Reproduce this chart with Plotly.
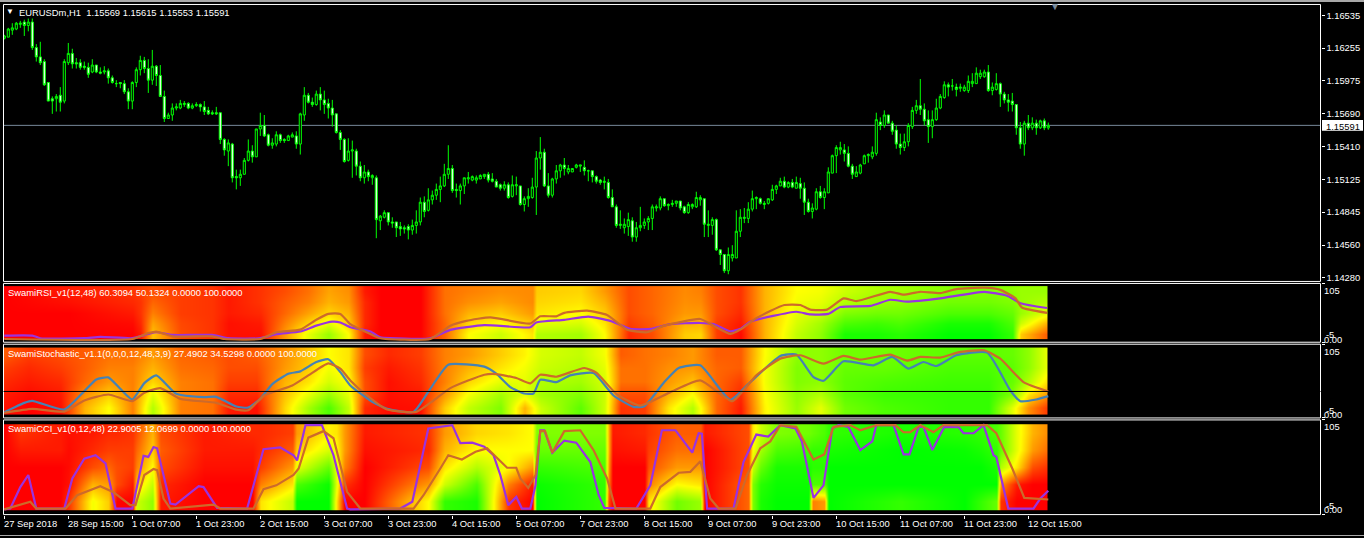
import plotly.graph_objects as go

W, H = 1364, 538
FONT = "Liberation Sans, sans-serif"
TXT = 9.4

title_text = "EURUSDm,H1  1.15569 1.15615 1.15553 1.15591"
rsi_text = "SwamiRSI_v1(12,48) 60.3094 50.1324 0.0000 100.0000"
sto_text = "SwamiStochastic_v1.1(0,0,0,12,48,3,9) 27.4902 34.5298 0.0000 100.0000"
cci_text = "SwamiCCI_v1(0,12,48) 22.9005 12.0699 0.0000 100.0000"

# Prices in pips above 1.0000 (1634 = 1.1634)
opens = [1634,1635,1641,1642,1646,1648,1645,1648,1626,1618,
1614,1596,1582,1582,1585,1580,1613,1621,1613,1613,
1610,1609,1605,1611,1605,1605,1606,1600,1595,1596,
1595,1588,1580,1596,1607,1615,1608,1598,1610,1602,
1584,1565,1568,1574,1574,1577,1578,1574,1576,1577,
1575,1572,1570,1570,1570,1547,1537,1543,1515,1514,
1517,1529,1537,1532,1556,1559,1551,1542,1543,1551,
1547,1546,1549,1550,1543,1568,1585,1579,1577,1586,
1581,1578,1574,1569,1553,1547,1529,1537,1537,1524,
1514,1519,1514,1514,1477,1480,1484,1476,1476,1472,
1471,1472,1469,1473,1476,1493,1486,1495,1499,1504,
1507,1517,1522,1504,1503,1507,1513,1512,1512,1513,
1515,1517,1513,1511,1508,1505,1508,1498,1507,1507,
1491,1496,1497,1506,1531,1536,1507,1499,1513,1520,
1525,1519,1519,1523,1524,1523,1520,1520,1515,1512,
1510,1510,1497,1489,1473,1471,1472,1477,1463,1471,
1473,1476,1479,1488,1488,1496,1490,1491,1492,1494,
1489,1484,1489,1489,
1495,1496,1473,1473,1478,1452,
1448,1434,1445,1445,1468,1479,1479,1487,1496,1496,
1491,1492,1495,1504,1507,1511,1506,1510,1505,1509,
1505,1493,1485,1487,1502,1497,1501,1518,1533,1538,
1538,1535,1524,1515,1518,1526,1533,1532,1535,1562,
1559,1568,1561,1555,1543,1540,1545,1558,1572,1576,
1573,1564,1558,1564,1574,1583,1594,1593,1592,1591,
1589,1589,1595,1595,1601,1601,1605,1589,1590,1595,
1586,1581,1580,1577,1557,1543,1561,1557,1561,1557,1563,1556.9]

highs = [1637,1643,1647,1648,1649,1650,1651,1651,1629,1631,
1616,1596,1584,1586,1592,1616,1630,1625,1617,1616,
1614,1613,1616,1611,1609,1610,1608,1602,1598,1596,
1598,1591,1597,1609,1619,1618,1616,1624,1611,1611,
1589,1570,1578,1578,1581,1580,1579,1578,1579,1578,
1580,1575,1572,1575,1570,1548,1547,1544,1521,1521,
1531,1547,1542,1556,1570,1568,1552,1548,1554,1552,
1548,1551,1553,1554,1570,1592,1587,1583,1589,1592,
1589,1582,1581,1569,1555,1548,1548,1546,1539,1528,
1525,1521,1517,1516,1482,1486,1484,1480,1476,1476,
1473,1474,1478,1486,1497,1498,1505,1503,1509,1515,
1526,1542,1525,1509,1509,1514,1519,1516,1516,1517,
1517,1519,1518,1513,1509,1511,1510,1516,1515,1507,
1498,1505,1514,1537,1549,1539,1518,1514,1525,1526,
1531,1525,1522,1526,1525,1529,1521,1520,1516,1513,
1515,1513,1504,1491,1486,1479,1484,1480,1476,1489,
1479,1481,1491,1491,1498,1496,1492,1495,1494,1494,
1490,1493,1492,1502,
1499,1496,1486,1480,1479,1452,
1448,1454,1456,1486,1487,1488,1493,1503,1498,1497,
1494,1496,1508,1508,1514,1515,1511,1513,1515,1514,
1510,1496,1492,1505,1507,1505,1523,1534,1542,1545,
1543,1541,1526,1524,1526,1534,1535,1541,1570,1566,
1572,1568,1563,1559,1552,1552,1561,1575,1581,1599,
1578,1572,1572,1582,1586,1597,1596,1599,1595,1595,
1594,1602,1604,1609,1607,1607,1611,1596,1604,1596,
1588,1586,1587,1577,1562,1563,1568,1566,1564,1564,1565,1561.5]

lows = [1633,1635,1637,1641,1643,1636,1640,1624,1614,1611,
1593,1580,1569,1571,1571,1578,1611,1608,1608,1607,
1607,1600,1604,1604,1603,1603,1595,1595,1592,1591,
1586,1573,1573,1592,1602,1604,1587,1594,1593,1584,
1562,1565,1563,1572,1573,1575,1573,1573,1575,1571,
1568,1568,1568,1568,1543,1533,1524,1510,1504,1507,
1517,1528,1527,1532,1550,1549,1541,1539,1541,1544,
1544,1546,1549,1539,1534,1563,1578,1575,1576,1572,
1569,1565,1558,1552,1538,1527,1528,1514,1516,1511,
1509,1511,1508,1462,1469,1479,1473,1471,1463,1464,
1466,1461,1465,1466,1473,1480,1485,1491,1495,1493,
1506,1513,1501,1497,1491,1500,1509,1511,1509,1513,
1513,1510,1510,1506,1503,1503,1496,1497,1499,1490,
1485,1489,1496,1482,1521,1506,1497,1497,1509,1514,
1516,1517,1519,1522,1519,1516,1511,1510,1509,1508,
1504,1496,1489,1471,1470,1466,1464,1459,1459,1468,
1470,1469,1469,1485,1486,1489,1486,1489,1489,1486,
1483,1483,1487,1488,
1490,1463,1463,1465,1451,1439,
1432,1431,1442,1445,1463,1475,1475,1485,1487,1491,
1487,1491,1494,1500,1507,1505,1505,1505,1505,1496,
1482,1484,1479,1486,1496,1487,1501,1518,1518,1534,
1528,1523,1513,1515,1517,1526,1527,1530,1533,1555,
1557,1561,1551,1539,1534,1537,1541,1556,1569,1568,
1559,1544,1548,1563,1573,1582,1584,1589,1584,1588,
1588,1587,1592,1595,1599,1600,1588,1585,1589,1575,
1578,1571,1571,1551,1539,1533,1555,1555,1551,1556,1555,1555.3]

closes = [1636,1642,1643,1647,1647,1645,1648,1626,1618,1613,
1594,1580,1580,1584,1579,1614,1621,1612,1612,1609,
1609,1603,1611,1605,1604,1606,1600,1596,1595,1595,
1588,1580,1596,1607,1615,1608,1598,1610,1602,1584,
1565,1568,1574,1575,1578,1578,1574,1576,1577,1575,
1571,1569,1569,1569,1547,1538,1544,1514,1514,1517,
1529,1537,1532,1556,1559,1550,1542,1544,1551,1546,
1546,1550,1551,1543,1569,1585,1579,1577,1586,1581,
1577,1574,1568,1553,1547,1528,1537,1538,1524,1514,
1519,1515,1516,1478,1481,1484,1476,1475,1471,1470,
1470,1469,1473,1476,1493,1485,1495,1499,1504,1507,
1517,1522,1503,1503,1507,1514,1514,1515,1514,1516,
1517,1512,1511,1506,1505,1508,1497,1508,1508,1491,
1496,1498,1506,1531,1536,1507,1499,1513,1520,1525,
1522,1522,1522,1525,1525,1520,1520,1515,1511,1510,
1511,1497,1489,1473,1474,1474,1478,1463,1471,1473,
1476,1479,1489,1489,1496,1490,1491,1492,1494,1488,
1484,1491,1491,1497,
1497,1474,1474,1478,1452,1448,
1434,1448,1448,1468,1480,1480,1487,1496,1497,1492,
1492,1496,1504,1507,1511,1506,1510,1506,1510,1505,
1493,1485,1488,1502,1497,1502,1519,1533,1540,1540,
1535,1524,1517,1519,1525,1533,1534,1536,1564,1559,
1568,1561,1554,1543,1540,1545,1559,1572,1576,1573,
1563,1558,1564,1574,1584,1594,1592,1593,1590,1592,
1592,1597,1597,1604,1604,1605,1589,1592,1595,1586,
1581,1579,1577,1557,1543,1561,1557,1561,1557,1563,1557,1559.1]

price_ticks = [1.16535, 1.16255, 1.15975, 1.15690, 1.15410, 1.15125, 1.14845, 1.14560, 1.14280]
last_price = 1.15591

time_tick_bars = [0, 16, 32, 48, 64, 80, 96, 112, 128, 144, 160, 176, 192, 208, 224, 240, 256]
time_labels = ["27 Sep 2018", "28 Sep 15:00", "1 Oct 07:00", "1 Oct 23:00", "2 Oct 15:00", "3 Oct 07:00",
               "3 Oct 23:00", "4 Oct 15:00", "5 Oct 07:00", "7 Oct 23:00", "8 Oct 15:00", "9 Oct 07:00",
               "9 Oct 23:00", "10 Oct 15:00", "11 Oct 07:00", "11 Oct 23:00", "12 Oct 15:00"]

heat_rows = [10, 30, 50, 70, 90]
RED_GREEN = [[0, "#ff0000"], [0.25, "#ff8000"], [0.5, "#ffff00"], [0.75, "#80ff00"], [1, "#00ff00"]]

rsi_heat_bars = [0,16,32,34,37,44,52,56,64,70,76,81,86,90,94,104,110,116,124,132,133,144,150,156,162,170,174,178,184,190,198,204,210,218,224,236,246,252,254,260.6]
rsi_heat = [[0,0,0,0,0],[0,0,0,3,5],[0,2,5,8,10],[5,8,10,10,12],[38,32,25,20,15],[15,14,12,12,12],[10,10,10,10,10],[3,3,5,5,5],
[3,5,8,10,10],[30,25,20,18,15],[55,42,32,25,22],[70,55,42,35,32],[50,40,35,30,28],[5,8,8,8,5],[0,0,0,0,0],[0,0,0,0,0],
[20,20,22,22,22],[50,42,35,28,25],[60,50,40,32,28],[45,38,30,27,27],[65,55,45,42,40],[68,58,50,45,42],[50,45,40,35,30],
[8,12,15,15,15],[15,18,20,20,20],[40,35,30,28,27],[42,35,30,27,25],[12,12,15,15,15],[2,5,8,10,10],[35,35,35,35,35],
[62,58,55,52,50],[72,68,60,55,52],[95,85,75,65,60],[95,88,78,70,66],[92,85,78,72,68],[100,95,85,78,74],[100,95,85,78,75],
[90,85,80,75,72],[40,60,70,70,70],[18,35,55,65,70]]

sto_heat_bars = [0,6,14,20,26,32,37,44,52,56,63,70,76,81,86,90,96,104,110,116,124,130,134,144,150,154,160,166,172,178,184,190,198,204,210,220,236,246,252,256,260.6]
sto_heat = [[3,5,8,12,18],[0,2,5,8,12],[3,5,8,12,15],[35,28,20,18,18],[50,40,30,25,22],[25,25,25,25,22],[65,55,42,35,30],
[25,25,25,22,20],[22,22,22,20,18],[5,8,12,15,15],[3,8,12,15,18],[42,38,35,30,28],[68,55,45,40,38],[85,70,58,52,50],
[62,55,50,45,45],[8,15,15,12,15],[2,3,3,5,8],[3,5,8,10,12],[40,30,25,25,25],[62,52,42,35,30],[75,68,55,45,40],[35,55,55,52,48],
[60,68,65,60,58],[82,75,68,65,62],[60,60,58,55,52],[10,15,22,22,18],[12,15,22,22,22],[45,35,30,28,25],[65,50,38,30,30],
[20,20,20,20,18],[5,8,12,18,18],[48,50,52,52,50],[70,72,75,75,72],[55,65,72,72,72],[78,82,82,80,78],[85,88,85,80,78],
[90,90,88,85,82],[90,90,88,85,82],[55,75,80,82,80],[28,45,65,72,72],[12,30,45,55,55]]

cci_heat_bars = [0,4,14,16,22,26,28,32,33,37,39,50,62,64,72,73,81,83,85,90,106,110,118,126,132,133,150,151,152,160,161,168,174,175,186,187,189,193,201,202,205,206,224,240,244,248,249,253,257,260.6]
cci_heat = [[0,0,0,0,0],[0,0,0,5,10],[0,0,0,5,5],[10,3,2,2,3],[52,35,15,8,5],[40,30,20,12,8],[0,15,15,12,8],[0,5,12,12,10],
[60,40,25,20,15],[72,62,50,40,35],[5,8,15,18,15],[0,0,3,5,5],[0,0,3,5,8],[45,25,12,8,8],[62,45,30,18,12],[100,85,55,40,30],
[100,98,80,58,48],[45,55,55,50,45],[0,10,25,30,30],[0,0,0,3,5],[50,30,15,8,10],[90,60,45,35,30],[95,85,65,50,42],[10,25,50,50,45],
[0,5,30,50,50],[100,98,90,80,75],[90,90,85,80,75],[15,25,30,35,35],[0,0,0,3,5],[0,0,0,5,8],[45,25,15,12,10],[78,50,30,22,18],
[70,45,30,22,18],[0,0,0,0,5],[20,20,15,15,15],[75,75,60,50,45],[95,92,80,68,60],[100,98,95,85,75],[100,98,95,88,78],[25,85,92,90,80],[30,85,92,90,85],
[100,100,100,95,90],[90,100,100,100,95],[100,100,100,98,92],[90,100,100,95,90],[80,100,95,90,85],[10,30,65,80,80],
[0,5,45,55,55],[0,0,15,30,35],[0,0,10,22,28]]

rsi_purple_bars = [0,7,9,20,24,32,36,38,42,52,56,64,68,74,78,82,84,86.5,91.5,94,96.5,106.5,111.5,120,131.5,133,140,146,151.5,156.5,161.5,166.5,174,177.3,181.5,184,186.5,198,201.5,206,209,216.5,221.5,225.7,234,245,250.7,254,260.7]
rsi_purple = [7.5,7.5,2.5,2.5,5,2.5,10.5,13.7,8.7,8.7,2.5,2.5,10,15,26,33.5,32,23,15,4,2.5,2.5,18,27,23,32,37,43,35,20,20,29,31,29,15.5,20,33.5,52,47,48,61,63,74.5,71,77,89.4,82,68,59]
rsi_choc_bars = [0,32,36,38,42,52,55,64,68,74,78,81,84,86.5,91.5,94,106.5,111.5,115.5,121.5,131.5,134,138,140,145.7,150.7,155.7,160.7,165,174,177.3,181.5,184,188,195,199,201.5,205.7,209.8,213,221.5,224.8,229,234,238,245,249,252.8,254.4,260.7]
rsi_choc = [1,1,12,15,6,6,1,1,13.7,18.6,37,48,48,29,10.6,2.5,1,26,35,41.6,30,43.5,43.5,50,54,46,18.6,13.7,26,38.5,26,10.6,18.6,40,64.6,64.6,56,56,77,72,89.4,84,89.4,87,94.4,97,93,77,60,50]

sto_blue_bars = [0,5,7,15,20,23,26,29,32,35,38,43,50,53,58,61,64,67,71,74,78,81,84,86.5,91.5,95.7,102.3,106.5,111,120,123,126.5,130,132.3,134,138,141.5,147.3,152.3,157.3,160,165,168.6,174,181.5,186.5,194,198,202.3,204.8,209.8,217.3,222,226,229.8,233,238,245.7,251.5,254,258,261]
sto_blue = [3.5,17.5,20.5,7.5,35,52.5,55.5,38.5,22.5,47,58.5,31,26,26.5,12,10.5,23.5,45.5,61,64.5,78.5,82.5,63.5,43.5,21,8.5,4,38.5,74.5,71.5,61,41,31.5,31.5,52,48.5,58.5,62,28.5,11.5,12.5,48.5,69.5,73.5,22,48.5,87.5,89.5,56,50.5,79.5,73.5,86,68.5,78.5,72.5,88.5,92.5,36,20,22.5,27.5]
sto_choc_bars = [0,7,15,20,26,32,35,39,44,53,58,61,65,72,76,81,84,86.5,90.7,95.7,103,107.3,111.5,120,123,128,131.5,134,138,145,148,153,159,166.5,174,182,188,194,199,204.8,209.8,214,221.5,225.7,229,234,239,245,249,254.8,261]
sto_choc = [2.5,8.5,4.5,21,30,20,32.5,39.5,23.5,17.5,7.5,6.5,28.5,43.5,58.5,76.5,68.5,51,28.5,7.5,4,21,39.5,59.5,60.5,54.5,46.5,59.5,56.5,69.5,62.5,31,13.5,33.5,51,20,58.5,83.5,88.5,76,87.5,82,89.5,80.5,86,85,93.5,96,83.5,48.5,34.5]
sto_level = 34.5

cci_purple_bars = [0,1.5,4,6,8,15,17,20,22.8,25.3,27.8,32,34.8,36,37.3,38.2,41.5,42.8,48.6,49.8,53.2,60.7,64.8,69,72.3,73.2,75.3,79.4,82.3,85.7,86.5,99,102,104.4,106,112,114,117,120,122.3,124,126,128,129.4,131.5,132.8,134,135,137,140,143,146.5,148.6,150,158,161.5,164.4,167.8,170,172,173.6,174.4,175.7,182.3,184.8,188,191,194,197.8,199.4,202.3,204.8,207,208.6,211,214,217,218,222.3,224.8,226.3,228.6,229.8,232,235,238.6,239.8,242.3,244.8,247.3,248,251,257.3,259,261]
cci_purple = [1,2,27,41,2,2,37,60,64,54.5,2,2,63.4,62,73.5,72,7.8,6.6,28,27,2.7,2,71,73,64,58,99,99,64,2,1,2,10,60,95,99,78,78.6,74,64,41,6,15.5,2,2,29,93,93,67,81,78.6,56,17.5,2.7,2,29,93,93,80,67,89.5,89,2,2,56,88,85.6,99,95,80,14.4,29,95,99,97,70,80,99,99,65,65,97,97,70,97,96.5,89.5,89.5,99,64,62,2,2,13.6,22.6]
cci_choc_bars = [0,6.5,8,15.3,18.2,24,27.3,31.5,32.8,35,37.3,38.2,39.8,41.5,52.3,54,62.3,64.8,68,72.3,73.6,76,79.8,82.3,85.7,89,102.3,104.8,109,111,114.4,117.8,120.7,125.7,128,129,131,132.8,134,135.2,137,140,144,147.3,150.7,152.8,161.5,164,168.6,171.5,174,176.5,178.6,182.8,185.7,189,191.5,194,198,202.3,205,207.3,211.5,214,218,222.8,224.8,226.5,229,232.3,234.8,245.7,248,252,255,261]
cci_choc = [1,10,2,2,17.5,28,21,6,6,41,48,46.7,13.6,2,6.6,2,2,24.5,29,41,48.6,84.4,92,83.7,21.4,2,2,17.5,48.6,64,59,68,72,49.4,49.4,37,26,41,92,92,67,92,93,70,37,2,2,27,43.6,44.7,57,13.6,2,2,41,72,80,99,97,59,65,97,99,93,99,99,90.7,90.7,99,90.7,99,99,89.5,48.6,14.4,12.5]

PURPLE, CHOC, BLUE = "#9a32e0", "#cd6a2a", "#4682b4"


def px_x(x):
    return x / W


def px_y(y):
    return 1 - y / H


bars = list(range(len(opens)))
prices = lambda a: [1 + v / 10000 for v in a]
x_range = [-0.2, 329.05]
panels = [(4.5, 282.5), (284.5, 343.5), (345.5, 419.5), (421.5, 516.5)]

fig = go.Figure()
fig.add_trace(go.Candlestick(
    x=bars, open=prices(opens), high=prices(highs), low=prices(lows), close=prices(closes),
    increasing=dict(line=dict(color="#00ff00", width=1), fillcolor="#000000"),
    decreasing=dict(line=dict(color="#00ff00", width=1), fillcolor="#ffffff"),
    whiskerwidth=0, xaxis="x", yaxis="y", showlegend=False, hoverinfo="skip"))


def heat(cols, grid, ax):
    xs = cols + [cols[-1] + 0.2]
    g = grid + [grid[-1]]
    z = [[col[r] for col in g] for r in range(len(heat_rows))]
    fig.add_trace(go.Heatmap(x=xs, y=heat_rows, z=z, zmin=0, zmax=100, colorscale=RED_GREEN, zsmooth="best",
                             showscale=False, hoverinfo="skip", xaxis="x" + ax, yaxis="y" + ax))


def line(xs, ys, color, ax, smooth=False):
    ln = dict(color=color, width=2.2)
    if smooth:
        ln.update(shape="spline", smoothing=0.5)
    fig.add_trace(go.Scatter(x=xs, y=ys, mode="lines", line=ln, showlegend=False,
                             hoverinfo="skip", xaxis="x" + ax, yaxis="y" + ax))


heat(rsi_heat_bars, rsi_heat, "2")
line(rsi_purple_bars, rsi_purple, PURPLE, "2", True)
line(rsi_choc_bars, rsi_choc, CHOC, "2", True)
heat(sto_heat_bars, sto_heat, "3")
line(sto_blue_bars, sto_blue, BLUE, "3", True)
line(sto_choc_bars, sto_choc, CHOC, "3", True)
heat(cci_heat_bars, cci_heat, "4")
line(cci_purple_bars, cci_purple, PURPLE, "4")
line(cci_choc_bars, cci_choc, CHOC, "4")

x_dom = [px_x(3.5), px_x(1320.5)]
base_y = dict(side="right", showgrid=False, zeroline=False, showline=False, ticks="outside", ticklen=3,
              tickcolor="#ffffff", tickwidth=1, color="#ffffff", fixedrange=True)
layout = dict(width=W, height=H, margin=dict(l=0, r=0, t=0, b=0), paper_bgcolor="#000000", plot_bgcolor="#000000",
              showlegend=False, boxgap=0.25, font=dict(family=FONT, size=TXT, color="#ffffff"))
for i, (top, bottom) in enumerate(panels):
    n = "" if i == 0 else str(i + 1)
    xa = dict(domain=x_dom, range=x_range, anchor="y" + n, showgrid=False, zeroline=False, showline=False,
              showticklabels=False, ticks="", rangeslider=dict(visible=False), fixedrange=True)
    if i == 3:
        xa.update(ticks="outside", ticklen=3, tickcolor="#ffffff", tickwidth=1, tickvals=time_tick_bars)
    ya = dict(base_y, domain=[px_y(bottom), px_y(top)], anchor="x" + n)
    if i == 0:
        ya.update(range=[1.14248, 1.16631], tickvals=price_ticks, ticktext=["%.5f" % p for p in price_ticks],
                  tickfont=dict(family=FONT, size=TXT, color="#ffffff"))
    else:
        ya.update(range=[-5, 105], tickvals=[-5, 105], showticklabels=False)
    layout["xaxis" + n] = xa
    layout["yaxis" + n] = ya

shapes = [dict(type="rect", xref="paper", yref="paper", x0=0, x1=1, y0=px_y(2), y1=1, fillcolor="#a8a8a8", line_width=0)]
shapes.append(dict(type="rect", xref="paper", yref="paper", x0=0, x1=1, y0=0, y1=px_y(537), fillcolor="#a8a8a8", line_width=0))
for top, bottom in panels:
    shapes.append(dict(type="rect", xref="paper", yref="paper", x0=x_dom[0], x1=x_dom[1], y0=px_y(bottom), y1=px_y(top),
                       line=dict(color="#ffffff", width=1), layer="above"))
shapes.append(dict(type="line", xref="paper", yref="y", x0=x_dom[0], x1=x_dom[1], y0=last_price, y1=last_price,
                   line=dict(color="#778899", width=1), layer="below"))
shapes.append(dict(type="line", xref="paper", yref="y3", x0=x_dom[0], x1=x_dom[1], y0=sto_level, y1=sto_level,
                   line=dict(color="#000000", width=1), layer="above"))
shapes.append(dict(type="rect", xref="paper", yref="y", x0=px_x(1322), x1=px_x(1363), y0=last_price - 0.00047,
                   y1=last_price + 0.00047, fillcolor="#ffffff", line_width=0, layer="above"))
layout["shapes"] = shapes

ann = []


def text(x, y, s, color="#ffffff", size=TXT, anchor="left"):
    ann.append(dict(x=px_x(x), y=px_y(y), xref="paper", yref="paper", text=s, showarrow=False, xanchor=anchor,
                    yanchor="middle", font=dict(family=FONT, size=size, color=color),
                    borderpad=0, borderwidth=0))


text(6, 12, "▼", size=8)
text(19, 12.5, title_text)
text(8, 293.5, rsi_text)
text(8, 354.5, sto_text)
text(8, 430.5, cci_text)
text(1050, 7, "▼", color="#778899", size=10)
text(1326, 126.7, "%.5f" % last_price, color="#000000")
for y in (291.7, 352.5, 428.5):
    text(1324, y, "105")
for y_a, y_b in ((336, 340.5), (412, 415.6), (507, 511.7)):
    text(1326, y_a, "-5")
    text(1324, y_b, "0.00")
for b, lab in zip(time_tick_bars, time_labels):
    ann.append(dict(x=b, y=px_y(525.5), xref="x4", yref="paper", text=lab, showarrow=False, xanchor="left", xshift=-2,
                    yanchor="middle", font=dict(family=FONT, size=TXT, color="#ffffff")))
layout["annotations"] = ann
fig.update_layout(**layout)

fig.write_html("out.html", config=dict(displayModeBar=False),
               post_script="document.body.style.margin='0';document.body.style.overflow='hidden';")
